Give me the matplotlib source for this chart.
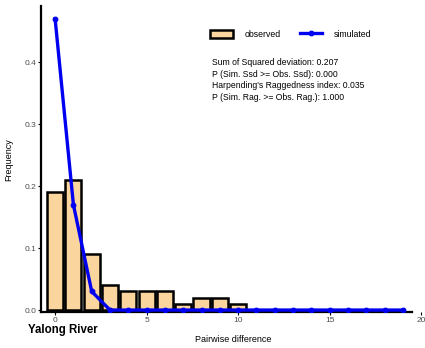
import numpy as np
import matplotlib
matplotlib.use("Agg")
from matplotlib import pyplot as plt

# mismatch distribution, Yalong River
diffs_obs = [0, 1, 2, 3, 4, 5, 6, 7, 8, 9, 10]
freq_obs = [0.19, 0.21, 0.09, 0.04, 0.03, 0.03, 0.03, 0.01, 0.02, 0.02, 0.01]
diffs_sim = list(range(20))
freq_sim = [0.47, 0.17, 0.03] + [0.0] * 17
x_ticks = [0, 5, 10, 15, 20]
y_ticks = [0.0, 0.1, 0.2, 0.3, 0.4]
stats = ["Sum of Squared deviation: 0.207",
         "P (Sim. Ssd >= Obs. Ssd): 0.000",
         "Harpending's Raggedness index: 0.035",
         "P (Sim. Rag. >= Obs. Rag.): 1.000"]

plt.rcParams['font.family'] = ['Liberation Sans', 'DejaVu Sans']

fig = plt.figure(figsize=(4.25, 3.48), dpi=100)
ax = fig.add_axes([0.0965, 0.1037, 0.903, 0.878])

bars = ax.bar(diffs_obs, freq_obs, width=0.88, color='#FAD59E',
              edgecolor='black', linewidth=1.8, label='observed', zorder=2)
line, = ax.plot(diffs_sim, freq_sim, color='#0000F0', lw=2.4, marker='o',
                ms=3.2, label='simulated', zorder=3)

ax.set_xlim(-0.77, 20.2)
ax.set_ylim(-0.003, 0.49)
ax.set_xticks(x_ticks)
ax.set_yticks(y_ticks)
ax.set_yticklabels(["%.1f" % v for v in y_ticks])
ax.tick_params(labelsize=6, labelcolor='#4d4d4d', length=2, width=0.8, pad=1.5)

for s in ['top', 'right']:
    ax.spines[s].set_visible(False)
ax.spines['left'].set_linewidth(1.6)
ax.spines['bottom'].set_linewidth(1.6)
ax.spines['bottom'].set_bounds(-0.77, 19.5)

ax.set_xlabel("Pairwise difference", fontsize=6.5, labelpad=8)
ax.set_ylabel("Frequency", fontsize=6.5, labelpad=8)

ax.legend(handles=[bars, line], loc='upper left', bbox_to_anchor=(0.42, 0.95),
          ncol=2, frameon=False, fontsize=6.3, handlelength=2.6,
          handleheight=1.2, columnspacing=2.2, handletextpad=1.3)

ax.text(0.445, 0.83, "\n".join(stats), transform=ax.transAxes, fontsize=6.2,
        va='top', ha='left', linespacing=1.35)

fig.text(0.066, 0.052, "Yalong River", fontsize=8.3, fontweight='bold',
         ha='left', va='center')

fig.savefig("out.png", dpi=100)
